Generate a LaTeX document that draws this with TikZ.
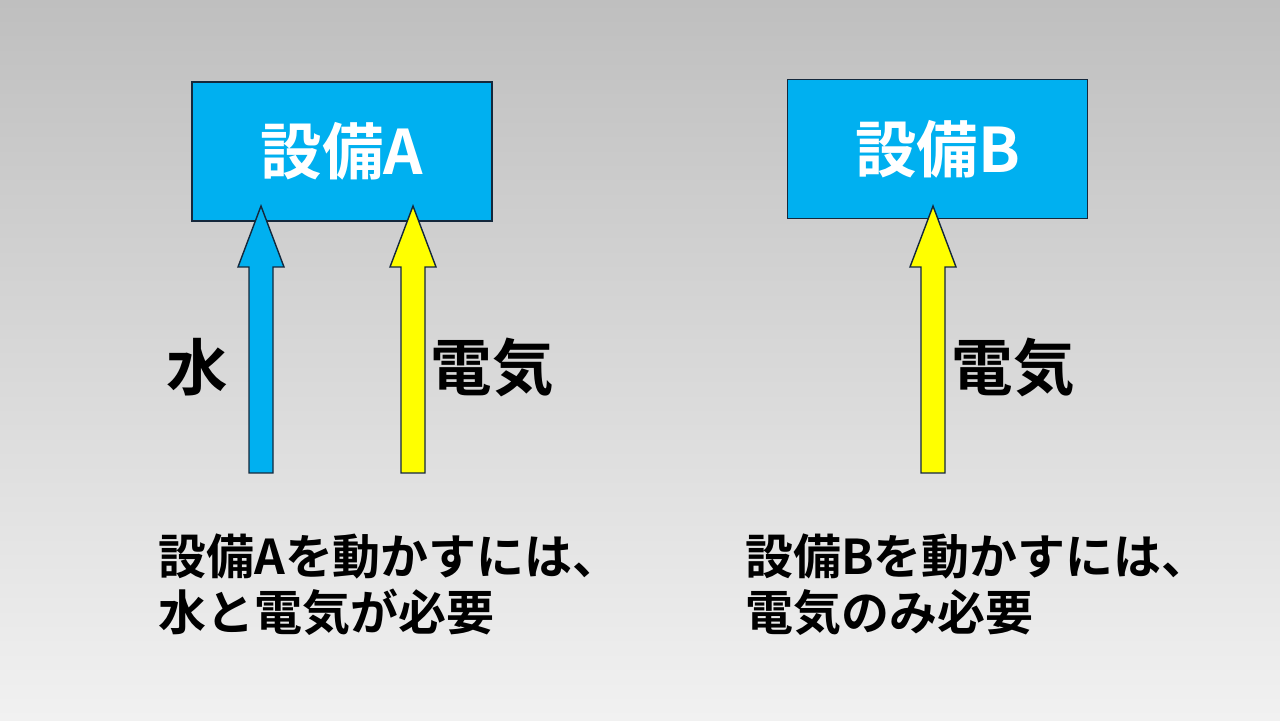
\documentclass[tikz,border=0pt]{standalone}
\usepackage{fontspec}
\setmainfont{Noto Sans CJK JP}[BoldFont={Noto Sans CJK JP Bold}]
\usepackage{xcolor}
\usepackage{tikz}
\usetikzlibrary{positioning,calc}

\begin{document}
\begin{tikzpicture}[
		x=0.02cm,y=0.02cm,
		line cap=butt,line join=miter,
		font=\bfseries
		]
		% ---- colors
		\definecolor{boxBlue}{RGB}{0,176,240}
		\definecolor{elecYellow}{RGB}{255,255,0}
		\definecolor{bgTop}{RGB}{191,191,191}
		\definecolor{bgBot}{RGB}{241,241,241}
		\definecolor{edgeDark}{RGB}{20,40,60}
		
		% ---- parameters (pixel units)
		\def\sw{12}   % half shaft width
		\def\hw{23}   % half head width
		\def\hl{61}   % head length
		
		% ---- background
		\shade[top color=bgTop, bottom color=bgBot] (0,0) rectangle (1280,720);
		\useasboundingbox (0,0) rectangle (1280,720);
		
		\tikzset{
			unitbox/.style={draw=edgeDark, line width=0.8pt, fill=boxBlue, text=white,
				minimum width=300*0.02cm, minimum height=139*0.02cm, inner sep=0pt,
				font=\fontsize{35}{40}\bfseries\selectfont},
			flowlbl/.style={text=black, inner sep=0pt, font=\fontsize{35}{40}\bfseries\selectfont},
			notetxt/.style={text=black, inner sep=0pt, align=left, anchor=west,
				font=\fontsize{27.3}{31.9}\bfseries\selectfont},
			blockarrow/.style={draw=edgeDark, line width=0.8pt}
		}
		
		% ---- boxes
		\node[unitbox] (SetA) at (342,568.5) {設備A};
		\node[unitbox] (SetB) at (937.5,571) {設備B};
		
		% ---- arrow ends
		\coordinate (WaterS) at (261,247);
		\coordinate (WaterT) at (261,514);
		\coordinate (ElecAS) at (413,247);
		\coordinate (ElecAT) at (413,514);
		\coordinate (ElecBS) at (933,247);
		\coordinate (ElecBT) at (933,514);
		
		% ---- block arrows (bottom -> box)
		\foreach \s/\t/\c in {WaterS/WaterT/boxBlue, ElecAS/ElecAT/elecYellow, ElecBS/ElecBT/elecYellow}{
			\draw[blockarrow, fill=\c]
			($(\s)+(-\sw,0)$) -- ($(\t)+(-\sw,-\hl)$) -- ($(\t)+(-\hw,-\hl)$) -- (\t)
			-- ($(\t)+(\hw,-\hl)$) -- ($(\t)+(\sw,-\hl)$) -- ($(\s)+(\sw,0)$) -- cycle;
		}
		
		% ---- labels
		\node[flowlbl] (LblWater) at (197,353) {水};
		\node[flowlbl] (LblElecA) at (492,353) {電気};
		\node[flowlbl] (LblElecB) at (1013,353) {電気};
		
		% ---- notes
		\node[notetxt] (NoteA) at (158,135) {設備Aを動かすには、\\水と電気が必要};
		\node[notetxt] (NoteB) at (745,135) {設備Bを動かすには、\\電気のみ必要};
		
	\end{tikzpicture}
\end{document}
